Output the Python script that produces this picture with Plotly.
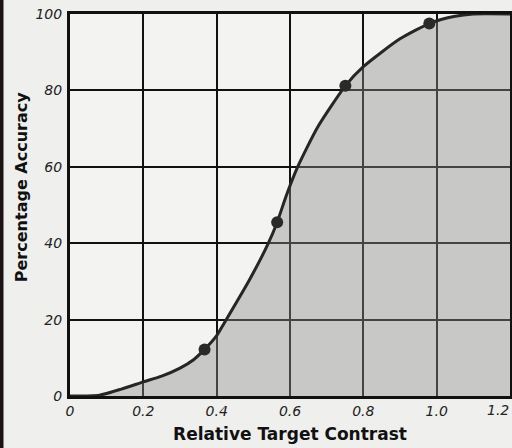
import plotly.graph_objects as go

# Smooth psychometric curve
curve_x = [0, 0.08, 0.14, 0.2, 0.25, 0.3, 0.337, 0.367, 0.4, 0.42, 0.49, 0.54, 0.565, 0.59, 0.62, 0.676, 0.751, 0.8, 0.9, 0.98, 1.05, 1.1, 1.2]
curve_y = [0, 0.2, 1.8, 3.7, 5.2, 7.3, 9.5, 12.2, 15.8, 19.0, 30.5, 39.8, 45.5, 52.5, 59.8, 70.5, 81.2, 86.2, 93.5, 97.5, 99.4, 100, 100]

# Measured data points
point_x = [0.367, 0.565, 0.751, 0.98]
point_y = [12.2, 45.5, 81.2, 97.5]

x_ticks = [0, 0.2, 0.4, 0.6, 0.8, 1.0, 1.2]
x_tick_labels = ["0", "0.2", "0.4", "0.6", "0.8", "1.0", "1.2"]
y_ticks = [0, 20, 40, 60, 80, 100]
y_tick_labels = ["0", "20", "40", "60", "80", "100"]

ink = "#222222"
tick_font = dict(family="DejaVu Sans", size=14, color=ink, style="italic")
title_font = dict(family="DejaVu Sans", size=17, color="#111111", weight="bold")
ytitle_font = dict(family="DejaVu Sans", size=16, color="#111111", weight="bold")

fig = go.Figure()
fig.add_trace(go.Scatter(
    x=curve_x, y=curve_y, mode="lines",
    line=dict(color="#262626", width=3, shape="spline", smoothing=0.6),
    fill="tozeroy", fillcolor="rgba(140,140,140,0.42)",
    hoverinfo="skip", showlegend=False,
))
fig.add_trace(go.Scatter(
    x=point_x, y=point_y, mode="markers",
    marker=dict(color="#2a2a2a", size=12),
    showlegend=False,
))

# the last x tick label sits at the very edge: draw it right-aligned to its tick
shown_x_labels = x_tick_labels[:-1] + [""]

fig.update_xaxes(
    range=[0, 1.2], tickvals=x_ticks, ticktext=shown_x_labels,
    showgrid=True, gridcolor="#111111", gridwidth=1.5,
    showline=True, linecolor="#111111", linewidth=3, mirror=True,
    zeroline=False, ticks="", tickfont=tick_font, automargin=False,
    title=dict(text="Relative Target Contrast", font=title_font, standoff=11),
)
fig.update_yaxes(
    range=[0, 100], tickvals=y_ticks, ticktext=y_tick_labels,
    showgrid=True, gridcolor="#111111", gridwidth=1.5,
    showline=True, linecolor="#111111", linewidth=3, mirror=True,
    zeroline=False, ticks="", tickfont=tick_font, ticklabelstandoff=2,
    automargin=False, ticklabeloverflow="allow",
)

fig.add_annotation(
    text=x_tick_labels[-1], x=x_ticks[-1], y=0, xref="x", yref="y",
    xanchor="right", yanchor="top", yshift=-4, xshift=1,
    showarrow=False, font=tick_font,
)

fig.add_annotation(
    text="Percentage Accuracy", textangle=-90,
    xref="paper", yref="paper", x=-0.111, y=0.547,
    xanchor="center", yanchor="middle",
    showarrow=False, font=ytitle_font,
)

# scan border on the left edge
fig.add_shape(type="rect", xref="paper", yref="paper",
              x0=-75/440, x1=-66.5/440, y0=-60/382, y1=1 + 20/382,
              fillcolor="#1a1414", line=dict(width=0), layer="above")

fig.update_layout(
    width=512, height=448,
    margin=dict(l=70, r=2, t=14, b=52),
    paper_bgcolor="#efefed", plot_bgcolor="#f3f3f1",
)

fig.write_html(
    "out.html",
    config={"displayModeBar": False},
    post_script="document.body.style.margin='0';document.body.style.overflow='hidden';",
)
